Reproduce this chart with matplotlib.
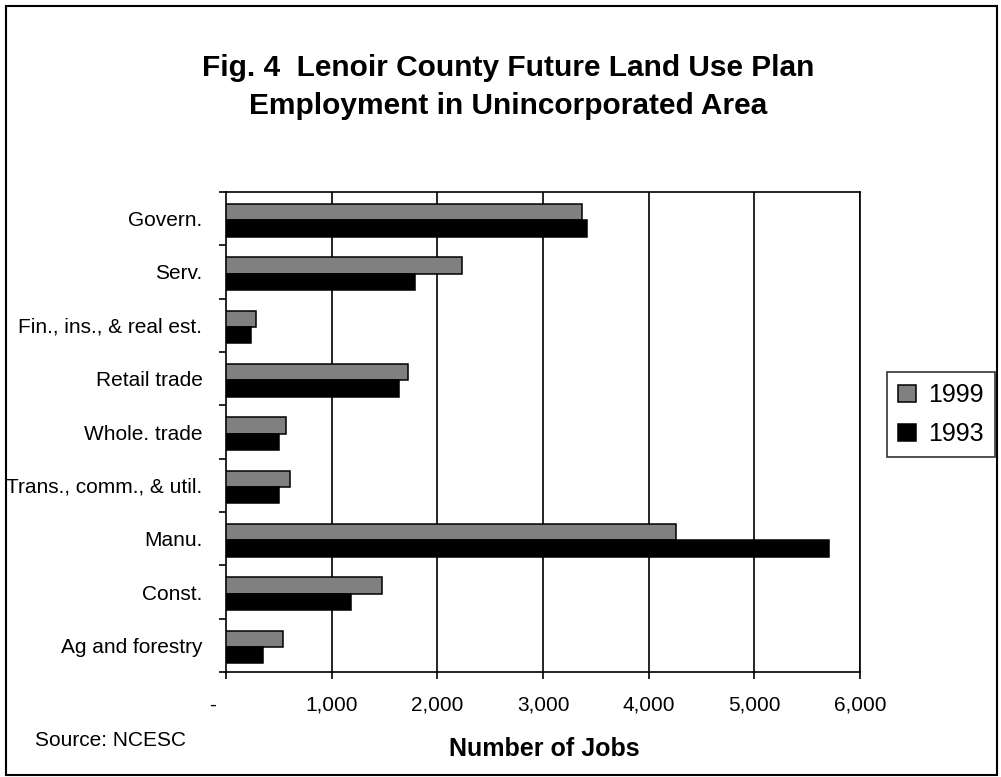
import matplotlib
matplotlib.use('Agg')
import matplotlib.pyplot as plt
import matplotlib.transforms as mtransforms
from matplotlib.patches import Rectangle, Patch
import numpy as np

# categories listed top to bottom as in the chart
sectors = ['Govern.', 'Serv.', 'Fin., ins., & real est.', 'Retail trade',
           'Whole. trade', 'Trans., comm., & util.', 'Manu.', 'Const.',
           'Ag and forestry']
jobs_1999 = [3370, 2235, 285, 1720, 570, 610, 4260, 1480, 535]
jobs_1993 = [3415, 1785, 235, 1635, 500, 500, 5705, 1180, 350]
xticks = [0, 1000, 2000, 3000, 4000, 5000, 6000]
xticklabels = ['-', '1,000', '2,000', '3,000', '4,000', '5,000', '6,000']

plt.rcParams['font.family'] = ['Liberation Sans', 'DejaVu Sans']

W, H = 1001, 777
fig = plt.figure(figsize=(W / 100, H / 100), dpi=100)
ax = fig.add_axes([226 / W, 1 - 672 / H, (860 - 226) / W, (672 - 192) / H])

ypos = np.arange(len(sectors))
bh = 0.306
shift = 0.03
ax.barh(ypos - bh / 2 + shift, jobs_1999, height=bh, color='#808080',
        edgecolor='black', linewidth=1.1, zorder=3)
ax.barh(ypos + bh / 2 + shift, jobs_1993, height=bh, color='black',
        edgecolor='black', linewidth=1.1, zorder=3)

ax.set_xlim(0, 6000)
ax.set_ylim(len(sectors) - 0.5, -0.5)

# gridlines sit behind the bars
for x in xticks[1:]:
    ax.axvline(x, color='black', lw=1.2, zorder=1)

for s in ax.spines.values():
    s.set_color('black')
    s.set_linewidth(1.2)

ax.set_xticks(xticks)
ax.set_xticklabels(xticklabels, fontsize=15)
ax.tick_params(axis='x', length=5, width=1.2, pad=12, direction='out')
off = mtransforms.ScaledTranslation(-13 / 100, 0, fig.dpi_scale_trans)
lbl0 = ax.get_xticklabels()[0]
lbl0.set_transform(lbl0.get_transform() + off)

ax.set_yticks(ypos)
ax.set_yticklabels(sectors, fontsize=15)
ax.set_yticks(np.arange(-0.5, len(sectors)), minor=True)
ax.tick_params(axis='y', which='major', length=0, pad=17)
ax.tick_params(axis='y', which='minor', length=5, width=1.2, direction='out')

fig.text(544 / W, 1 - 749 / H, 'Number of Jobs', fontsize=18,
         fontweight='bold', ha='center', va='center')
fig.text(35 / W, 1 - 741 / H, 'Source: NCESC', fontsize=15,
         ha='left', va='center')
fig.text(508 / W, 1 - 68 / H, 'Fig. 4  Lenoir County Future Land Use Plan',
         fontsize=21.5, fontweight='bold', ha='center', va='center')
fig.text(508 / W, 1 - 106 / H, 'Employment in Unincorporated Area',
         fontsize=21.5, fontweight='bold', ha='center', va='center')

handles = [Patch(facecolor='#808080', edgecolor='black', linewidth=1.1),
           Patch(facecolor='black', edgecolor='black', linewidth=1.1)]
leg = fig.legend(handles, ['1999', '1993'], loc='upper left',
                 bbox_to_anchor=(887 / W, 1 - 372 / H), borderaxespad=0,
                 fontsize=18, frameon=True, fancybox=False,
                 handlelength=0.7, handleheight=0.7, handletextpad=0.5,
                 labelspacing=0.6, borderpad=0.45)
leg.get_frame().set_edgecolor('black')
leg.get_frame().set_linewidth(1.2)

# outer chart border
fig.patches.append(Rectangle((6 / W, 2 / H), (997 - 6) / W, (771 - 2) / H,
                             transform=fig.transFigure, fill=False,
                             edgecolor='black', linewidth=1.5))

fig.savefig('out.png', dpi=100)
